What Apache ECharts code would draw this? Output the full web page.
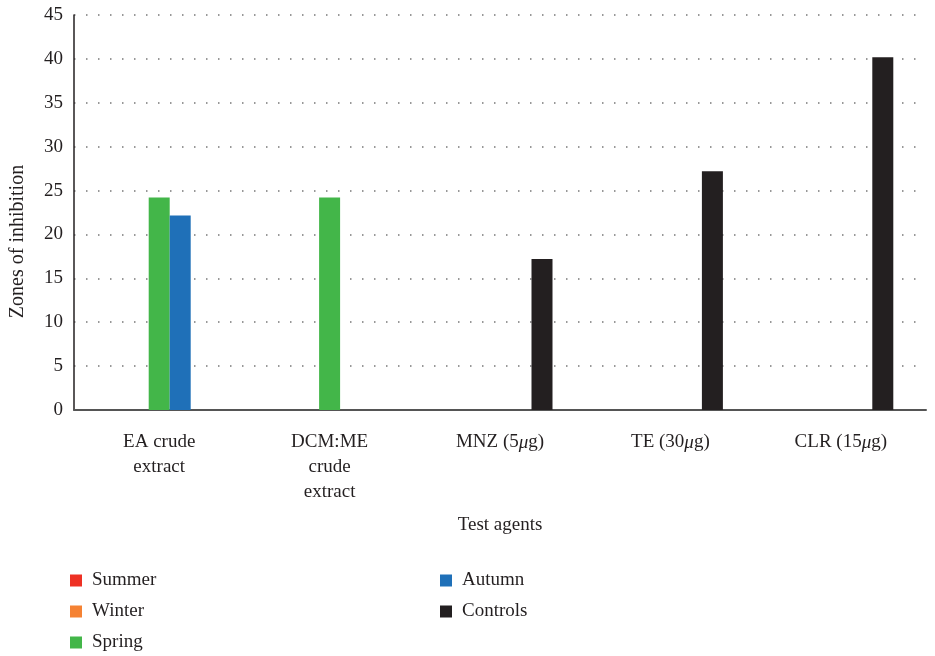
<!DOCTYPE html>
<html>
<head>
<meta charset="utf-8">
<script src="https://cdn.jsdelivr.net/npm/echarts@6/dist/echarts.min.js"></script>
<style>html,body{margin:0;padding:0;background:#fff}#c{width:935px;height:656px}</style>
</head>
<body>
<div id="c"></div>
<script>
const categories = ['EA crude\nextract', 'DCM:ME\ncrude\nextract', 'MNZ (5{i|μ}g)', 'TE (30{i|μ}g)', 'CLR (15{i|μ}g)'];
const seriesNames = ['Summer', 'Winter', 'Spring', 'Autumn', 'Controls'];
const summer = [null, null, null, null, null];
const winter = [null, null, null, null, null];
const spring = [24.2, 24.2, null, null, null];
const autumn = [22.15, null, null, null, null];
const controls = [null, null, 17.2, 27.2, 40.2];
const yTicks = [0, 5, 10, 15, 20, 25, 30, 35, 40, 45];
const colors = ['#EE3124', '#F58233', '#43B649', '#1F70B8', '#231F20'];

const font = '"Liberation Serif", "DejaVu Serif", serif';
const values = [summer, winter, spring, autumn, controls];
const chart = echarts.init(document.getElementById('c'), null, {renderer: 'canvas'});
const legendCommon = {
  orient: 'vertical', icon: 'rect', itemWidth: 12, itemHeight: 12, itemGap: 12, height: 110,
  textStyle: {fontFamily: font, fontSize: 19, color: '#231F20', padding: [0, 0, 0, 5]},
  selectedMode: false
};
chart.setOption({
  animation: false,
  color: colors,
  grid: {left: 73, right: 9, top: 15, bottom: 246, containLabel: false},
  legend: [
    Object.assign({}, legendCommon, {left: 65, top: 566, data: seriesNames.slice(0, 3)}),
    Object.assign({}, legendCommon, {left: 435, top: 566, data: seriesNames.slice(3)})
  ],
  xAxis: {
    type: 'category', data: categories,
    name: 'Test agents', nameLocation: 'middle', nameGap: 106,
    nameTextStyle: {fontFamily: font, fontSize: 19, color: '#231F20'},
    axisLine: {lineStyle: {color: '#555', width: 2}},
    axisTick: {show: false},
    axisLabel: {
      interval: 0, margin: 20, fontFamily: font, fontSize: 19, color: '#231F20', lineHeight: 25,
      rich: {i: {fontFamily: font, fontSize: 19, fontStyle: 'italic', color: '#231F20'}}
    }
  },
  yAxis: {
    type: 'value', min: 0, max: 45, interval: 5,
    name: 'Zones of inhibition', nameLocation: 'middle', nameGap: 46,
    nameTextStyle: {fontFamily: font, fontSize: 20, color: '#231F20', padding: [0, 58, 0, 0]},
    axisLine: {show: true, lineStyle: {color: '#231F20', width: 1.5}},
    axisTick: {show: false},
    axisLabel: {margin: 11, fontFamily: font, fontSize: 19, color: '#231F20',
      formatter: v => yTicks.indexOf(v) >= 0 ? String(v) : ''},
    splitLine: {lineStyle: {color: '#777', width: 1.5, type: [1.5, 10.5]}}
  },
  series: seriesNames.map((n, i) => ({
    name: n, type: 'bar', data: values[i], barWidth: 21, barGap: '0%',
    itemStyle: {color: colors[i]}
  }))
});
</script>
</body>
</html>
